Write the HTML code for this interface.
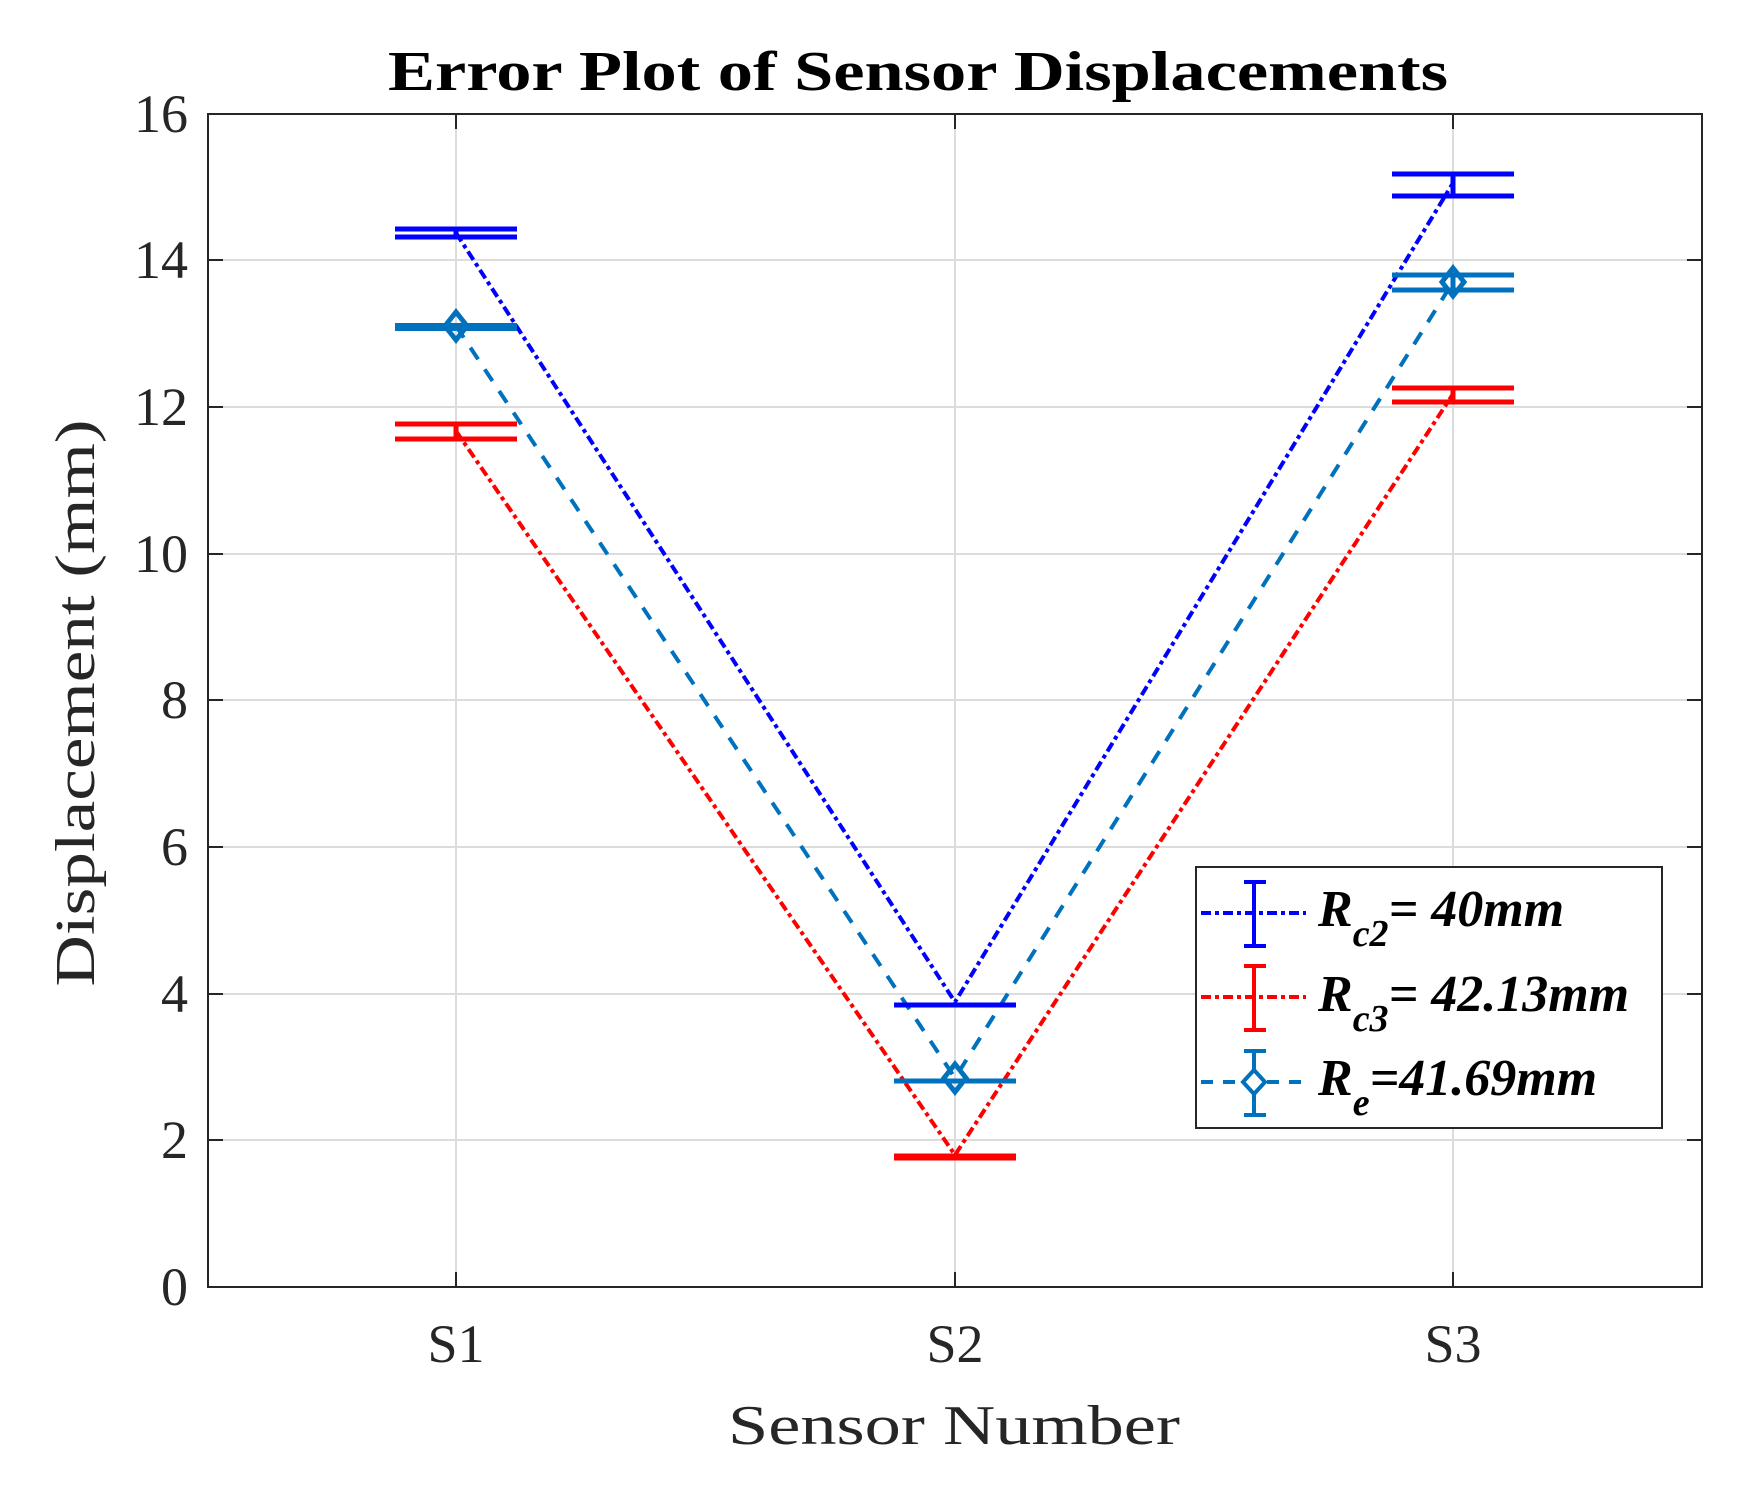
<!DOCTYPE html>
<html><head><style>body{margin:0;background:#fff}svg{display:block}</style></head><body>
<svg width="1761" height="1490" viewBox="0 0 1761 1490" xmlns="http://www.w3.org/2000/svg" font-family="Liberation Serif, serif">
<rect width="1761" height="1490" fill="#fff"/>
<g stroke="#dcdcdc" stroke-width="2">
<line x1="456" y1="114" x2="456" y2="1287"/><line x1="955" y1="114" x2="955" y2="1287"/><line x1="1453" y1="114" x2="1453" y2="1287"/>
<line x1="208" y1="1140" x2="1702" y2="1140"/><line x1="208" y1="994" x2="1702" y2="994"/><line x1="208" y1="847" x2="1702" y2="847"/><line x1="208" y1="700" x2="1702" y2="700"/><line x1="208" y1="554" x2="1702" y2="554"/><line x1="208" y1="407" x2="1702" y2="407"/><line x1="208" y1="260" x2="1702" y2="260"/>
</g>
<g stroke="#262626" stroke-width="2">
<rect x="208" y="114" width="1494" height="1173" fill="none"/>
<path d="M456 1287v-15M955 1287v-15M1453 1287v-15M456 114v15M955 114v15M1453 114v15"/>
<path d="M208 1140h15M208 994h15M208 847h15M208 700h15M208 554h15M208 407h15M208 260h15M1702 1140h-15M1702 994h-15M1702 847h-15M1702 700h-15M1702 554h-15M1702 407h-15M1702 260h-15"/>
</g>
<g font-size="54" fill="#262626" text-anchor="end">
<text x="188" y="1305">0</text><text x="188" y="1158">2</text><text x="188" y="1012">4</text><text x="188" y="865">6</text><text x="188" y="718">8</text><text x="188" y="572">10</text><text x="188" y="425">12</text><text x="188" y="278">14</text><text x="188" y="132">16</text>
</g>
<g font-size="54" fill="#262626" text-anchor="middle">
<text x="456" y="1362">S1</text><text x="955" y="1362">S2</text><text x="1453" y="1362">S3</text>
<text x="954" y="1444" font-size="56" textLength="452" lengthAdjust="spacingAndGlyphs">Sensor Number</text>
<text x="918" y="90" font-size="56" font-weight="bold" fill="#000" textLength="1060" lengthAdjust="spacingAndGlyphs">Error Plot of Sensor Displacements</text>
<text transform="translate(94,703) rotate(-90)" font-size="56" textLength="567" lengthAdjust="spacingAndGlyphs">Displacement (mm)</text>
</g>
<polyline points="456,233 955,1002 1453,183" fill="none" stroke="#0000ff" stroke-width="4" stroke-dasharray="10,4,4,4"/>
<polyline points="456,431 955,1155 1453,394" fill="none" stroke="#ff0000" stroke-width="4" stroke-dasharray="10,4,4,4"/>
<polyline points="456,326 955,1078 1453,282" fill="none" stroke="#0072bd" stroke-width="4" stroke-dasharray="14,12"/>
<g stroke="#0000ff" stroke-width="5">
<path d="M395 229h122M395 237h122M456 229v8"/>
<path d="M894 1005h122"/>
<path d="M1392 174h122M1392 196h122M1453 174v22"/>
</g>
<g stroke="#ff0000" stroke-width="5">
<path d="M395 424h122M395 439h122M456 424v15"/>
<path d="M894 1157h122" stroke-width="7"/>
<path d="M1392 388h122M1392 402h122M1453 388v14"/>
</g>
<g stroke="#0072bd" stroke-width="5" fill="none">
<path d="M395 327h122" stroke-width="8"/>
<path d="M894 1081h122"/>
<path d="M1392 275h122M1392 290h122M1453 275v15"/>
<path d="M456 312l11 14-11 14-11-14z"/><path d="M955 1064l11 14-11 14-11-14z"/><path d="M1453 268l11 14-11 14-11-14z"/>
</g>
<rect x="1196" y="867" width="466" height="261" fill="#fff" stroke="#262626" stroke-width="2"/>
<g stroke-width="4">
<path d="M1201 913h105" stroke="#0000ff" stroke-dasharray="10,4,4,4"/>
<path d="M1254 882v64M1244 882h22M1244 946h22" stroke="#0000ff"/>
<path d="M1201 997h105" stroke="#ff0000" stroke-dasharray="10,4,4,4"/>
<path d="M1254 966v64M1244 966h22M1244 1030h22" stroke="#ff0000"/>
<path d="M1201 1082h100" stroke="#0072bd" stroke-dasharray="12,10"/>
<path d="M1254 1051v64M1244 1051h22M1244 1115h22" stroke="#0072bd"/>
<path d="M1254 1070l11 12-11 12-11-12z" stroke="#0072bd" fill="#fff"/>
</g>
<g font-size="52" font-style="italic" font-weight="bold" fill="#000">
<text x="1318" y="926">R<tspan font-size="38" dy="20">c2</tspan><tspan dy="-20">= 40mm</tspan></text>
<text x="1318" y="1011">R<tspan font-size="38" dy="20">c3</tspan><tspan dy="-20">= 42.13mm</tspan></text>
<text x="1318" y="1095">R<tspan font-size="38" dy="20">e</tspan><tspan dy="-20">=41.69mm</tspan></text>
</g>
</svg>
</body></html>
